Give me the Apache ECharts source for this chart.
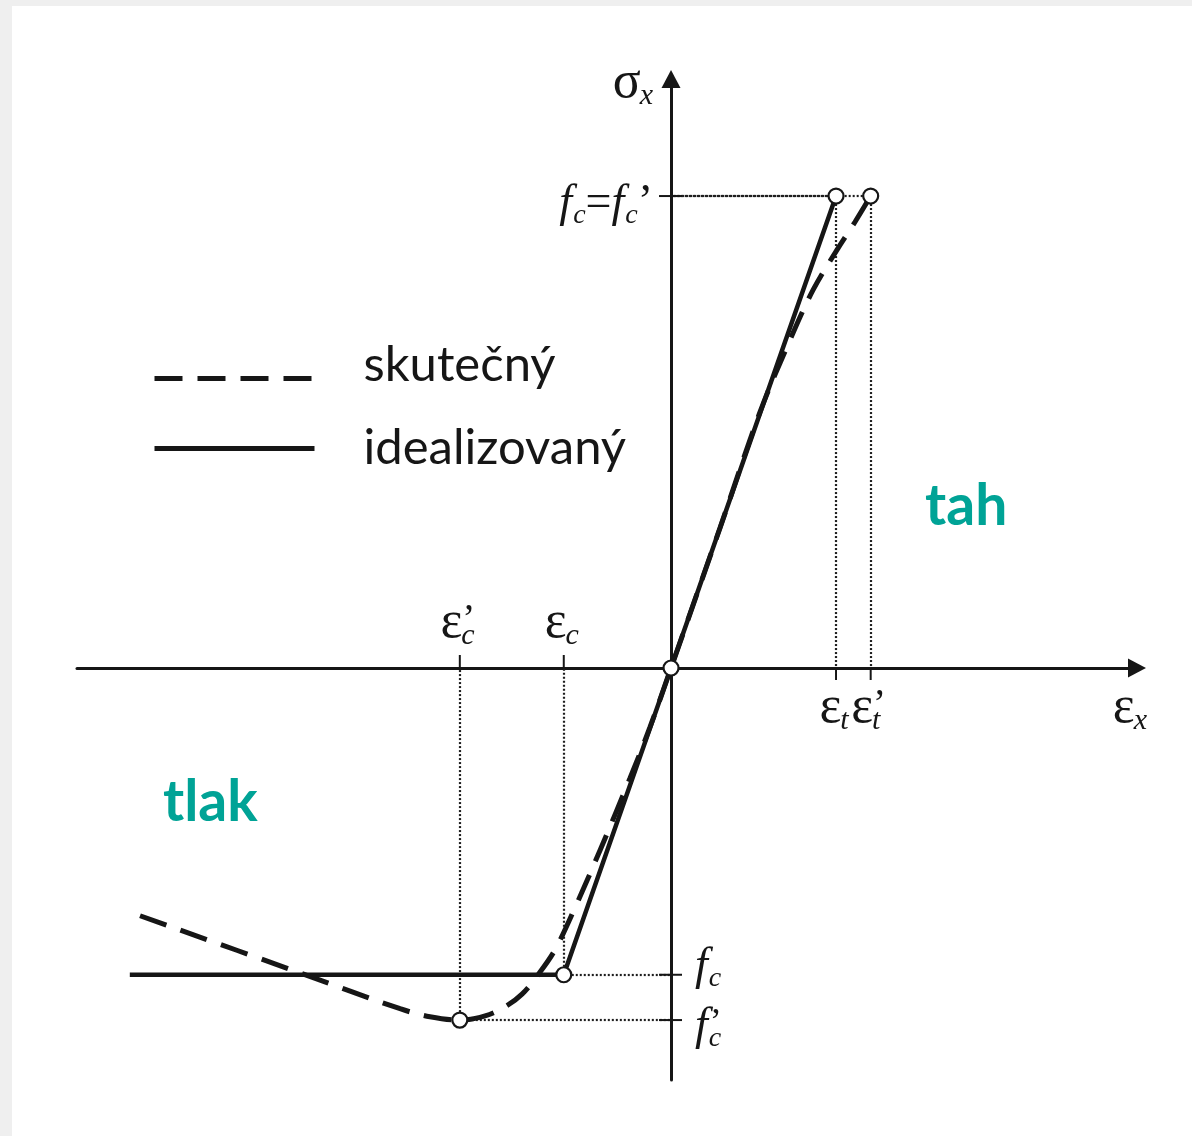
<!DOCTYPE html>
<html>
<head>
<meta charset="utf-8">
<title>Pracovní diagram betonu</title>
<script src="https://cdn.jsdelivr.net/npm/echarts@6/dist/echarts.min.js"></script>
<style>
  html, body { margin: 0; padding: 0; width: 1192px; height: 1136px; overflow: hidden; background: #efefef; }
  #chart { position: absolute; left: 12px; top: 6px; width: 1180px; height: 1130px; background: #ffffff; }
</style>
</head>
<body>
<div id="chart"></div>
<script>
// ---- data (strain ε scaled so that ε_t = 1, stress σ scaled so that f = 1) ----
const measuredStrain = [-3.218, -2.248, -1.642, -1.461, -1.28, -1.127, -1.006, -0.903, -0.806, -0.703, -0.582, -0.430, -0.248, -0.127, 0, 0.297, 0.539, 0.721, 0.861, 1.006, 1.115, 1.21];
const measuredStress = [-0.525, -0.646, -0.722, -0.739, -0.746, -0.737, -0.718, -0.691, -0.650, -0.597, -0.508, -0.386, -0.233, -0.125, 0, 0.297, 0.542, 0.695, 0.801, 0.886, 0.945, 1.0];

const idealStrain = [-3.28, -0.65, 0, 1.0];
const idealStress = [-0.65, -0.65, 0, 1.0];

// characteristic points: origin, ε_t, ε'_t, ε_c, ε'_c
const keyStrain = [0, 1.0, 1.21, -0.65, -1.28];
const keyStress = [0, 1.0, 1.0, -0.65, -0.746];

// tick marks on the ε axis and their labels (base letter, subscript, prime)
const strainTickValues = [-1.28, -0.65, 1.0, 1.21];
const strainTickLabels = [
  [{ b: 'ε', s: 'c', p: '’' }],
  [{ b: 'ε', s: 'c' }],
  [{ b: 'ε', s: 't' }],
  [{ b: 'ε', s: 't', p: '’' }]
];

// tick marks on the σ axis and their labels
const stressTickValues = [1.0, -0.65, -0.746];
const stressTickLabels = [
  [{ b: 'f', s: 'c' }, { b: '=' }, { b: 'f', s: 'c' }, { b: '’' }],
  [{ b: 'f', s: 'c' }],
  [{ b: 'f', s: 'c', p: '’' }]
];

const axisNames = [
  [{ b: 'ε', s: 'x' }],
  [{ b: 'σ', s: 'x' }]
];

const legendNames = ['skutečný', 'idealizovaný'];
const regionNames = ['tah', 'tlak'];

// ---- styling helpers ----
const INK = '#161616';
const TEAL = '#00a396';
const SERIF = '"Liberation Serif", "Times New Roman", serif';
const SANS = 'Lato, "Open Sans", sans-serif';

const X_MIN = -3.6, X_MAX = 2.824, Y_MIN = -0.873, Y_MAX = 1.248;

const zip = (xs, ys) => xs.map((x, i) => [x, ys[i]]);

const measureCtx = document.createElement('canvas').getContext('2d');
function fontCss(size, italic, family, weight) {
  return (italic ? 'italic ' : '') + (weight || 'normal') + ' ' + size + 'px ' + family;
}
function measure(text, css) {
  measureCtx.font = css;
  measureCtx.textBaseline = 'alphabetic';
  return measureCtx.measureText(text).width;
}
// distance from the 'middle' line to the alphabetic baseline for a font
function middleToBaseline(css) {
  measureCtx.font = css;
  measureCtx.textBaseline = 'alphabetic';
  const a = measureCtx.measureText('H').actualBoundingBoxAscent;
  measureCtx.textBaseline = 'middle';
  const b = measureCtx.measureText('H').actualBoundingBoxAscent;
  measureCtx.textBaseline = 'alphabetic';
  return a - b;
}

// lays out a symbol with subscript / prime as separate text pieces
function layoutMath(groups, baseSize, subSize) {
  const parts = [];
  const primeSize = Math.round(subSize * 1.3);
  let x = 0;
  groups.forEach(g => {
    const italic = /[A-Za-z]/.test(g.b);
    const w = measure(g.b, fontCss(baseSize, italic, SERIF));
    parts.push({ text: g.b, size: baseSize, italic, x, dy: 0 });
    let end = x + w;
    if (g.s || g.p) {
      const sx = x + w + (italic ? 1 : -1);
      if (g.s) {
        parts.push({ text: g.s, size: subSize, italic: true, x: sx, dy: Math.round(subSize * 0.24) });
        end = Math.max(end, sx + measure(g.s, fontCss(subSize, true, SERIF)));
      }
      if (g.p) {
        parts.push({ text: g.p, size: primeSize, italic: false, x: sx + 1, dy: -Math.round(baseSize * 0.12) });
        end = Math.max(end, sx + 1 + measure(g.p, fontCss(primeSize, false, SERIF)));
      }
    }
    x = end;
  });
  return { parts, width: x };
}

function mathElements(groups, baseSize, subSize, ax, baseline, align) {
  const lay = layoutMath(groups, baseSize, subSize);
  const x0 = align === 'center' ? ax - lay.width / 2 : align === 'right' ? ax - lay.width : ax;
  return lay.parts.map(p => {
    const css = fontCss(p.size, p.italic, SERIF);
    return {
      type: 'text',
      x: x0 + p.x,
      y: baseline + p.dy - middleToBaseline(css),
      style: {
        text: p.text, fontSize: p.size, fontStyle: p.italic ? 'italic' : 'normal', fontWeight: 'normal',
        fontFamily: SERIF, fill: INK, align: 'left', verticalAlign: 'middle'
      }
    };
  });
}

// dotted construction lines from each characteristic point to both axes
const guideLines = [];
keyStrain.forEach((x, i) => {
  const y = keyStress[i];
  if (x === 0 && y === 0) return;
  guideLines.push({ coords: [[x, y], [x, 0]] });
  guideLines.push({ coords: [[x, y], [0, y]] });
});

// the lowest compressive stress label sits below its tick, the other one above
const lowestStress = Math.min(...stressTickValues);

const chart = echarts.init(document.getElementById('chart'));

const regionFont = fontCss(57, false, SANS, 'bold');
const legendText = (padBottom) => ({
  rich: { t: { fontFamily: SANS, fontSize: 49, color: INK, padding: [0, 0, padBottom, 44] } }
});

chart.setOption({
  animation: false,
  backgroundColor: '#ffffff',
  color: [INK, INK],
  grid: { left: 65, right: 55, top: 73, bottom: 56, containLabel: false },
  xAxis: {
    type: 'value', min: X_MIN, max: X_MAX,
    axisLine: { onZero: true, symbol: ['none', 'triangle'], symbolSize: [19, 18], lineStyle: { color: INK, width: 3 } },
    axisTick: { show: false }, axisLabel: { show: false }, splitLine: { show: false }
  },
  yAxis: {
    type: 'value', min: Y_MIN, max: Y_MAX,
    axisLine: { onZero: true, symbol: ['none', 'triangle'], symbolSize: [19, 18], lineStyle: { color: INK, width: 3 } },
    axisTick: { show: false }, axisLabel: { show: false }, splitLine: { show: false }
  },
  legend: {
    data: [
      { name: legendNames[0], textStyle: legendText(26) },
      { name: legendNames[1], textStyle: legendText(0) }
    ],
    orient: 'vertical',
    left: 140, top: 335,
    padding: 0,
    itemGap: 34,
    itemWidth: 160, itemHeight: 10,
    selectedMode: false,
    itemStyle: { opacity: 0 },
    lineStyle: { width: 5 },
    formatter: '{t|{name}}',
    textStyle: legendText(26)
  },
  graphic: [
    {
      type: 'text', x: 913, y: 519 - middleToBaseline(regionFont),
      style: { text: regionNames[0], fontFamily: SANS, fontWeight: 'bold', fontSize: 57, fill: TEAL, verticalAlign: 'middle' }
    },
    {
      type: 'text', x: 151, y: 815 - middleToBaseline(regionFont),
      style: { text: regionNames[1], fontFamily: SANS, fontWeight: 'bold', fontSize: 57, fill: TEAL, verticalAlign: 'middle' }
    }
  ],
  series: [
    {
      type: 'lines', coordinateSystem: 'cartesian2d', silent: true, z: 2,
      data: guideLines,
      lineStyle: { color: '#1e1e1e', width: 2.2, type: [2, 2], opacity: 1 }
    },
    {
      name: legendNames[0], type: 'line', z: 3,
      data: zip(measuredStrain, measuredStress),
      smooth: 0.35, symbol: 'none',
      itemStyle: { color: INK },
      lineStyle: { color: INK, width: 5, type: [28, 15], cap: 'butt' }
    },
    {
      name: legendNames[1], type: 'line', z: 4,
      data: zip(idealStrain, idealStress),
      symbol: 'none',
      itemStyle: { color: INK },
      lineStyle: { color: INK, width: 4.5 }
    },
    {
      // ticks and labels on the strain axis
      type: 'custom', z: 6, silent: true,
      data: strainTickValues.map((v, i) => [v, i]),
      renderItem(params, api) {
        const v = api.value(0);
        const idx = api.value(1);
        const p = api.coord([v, 0]);
        const up = v < 0;
        const children = [{
          type: 'line',
          shape: { x1: p[0], y1: p[1], x2: p[0], y2: p[1] + (up ? -13 : 12) },
          style: { stroke: INK, lineWidth: 2 }
        }];
        const baseline = up ? p[1] - 31 : p[1] + 54;
        children.push(...mathElements(strainTickLabels[idx], 52, 30, p[0] - 2, baseline, 'center'));
        return { type: 'group', children };
      }
    },
    {
      // ticks and labels on the stress axis
      type: 'custom', z: 6, silent: true,
      data: stressTickValues.map((v, i) => [0, v, i]),
      encode: { x: 0, y: 1 },
      renderItem(params, api) {
        const v = api.value(1);
        const idx = api.value(2);
        const p = api.coord([0, v]);
        const children = [{
          type: 'line',
          shape: { x1: p[0] - 12, y1: p[1], x2: p[0] + 11, y2: p[1] },
          style: { stroke: INK, lineWidth: 2 }
        }];
        if (v > 0) {
          children.push(...mathElements(stressTickLabels[idx], 46, 28, p[0] - 18, p[1] + 20, 'right'));
        } else {
          const shift = v === lowestStress ? 19 : 4;
          children.push(...mathElements(stressTickLabels[idx], 46, 28, p[0] + 24, p[1] + shift, 'left'));
        }
        return { type: 'group', children };
      }
    },
    {
      // axis names at the arrow ends
      type: 'custom', z: 6, silent: true,
      data: [[X_MAX, 0, 0], [0, Y_MAX, 1]],
      encode: { x: 0, y: 1 },
      renderItem(params, api) {
        const idx = api.value(2);
        const p = api.coord([api.value(0), api.value(1)]);
        const children = idx === 0
          ? mathElements(axisNames[0], 52, 30, p[0] + 10, p[1] + 54, 'right')
          : mathElements(axisNames[1], 52, 30, p[0] - 18, p[1] + 18, 'right');
        return { type: 'group', children };
      }
    },
    {
      type: 'scatter', z: 10, silent: true,
      data: zip(keyStrain, keyStress),
      symbol: 'circle', symbolSize: 15,
      itemStyle: { color: '#ffffff', borderColor: INK, borderWidth: 2.2, opacity: 1 }
    }
  ]
});
</script>
</body>
</html>
